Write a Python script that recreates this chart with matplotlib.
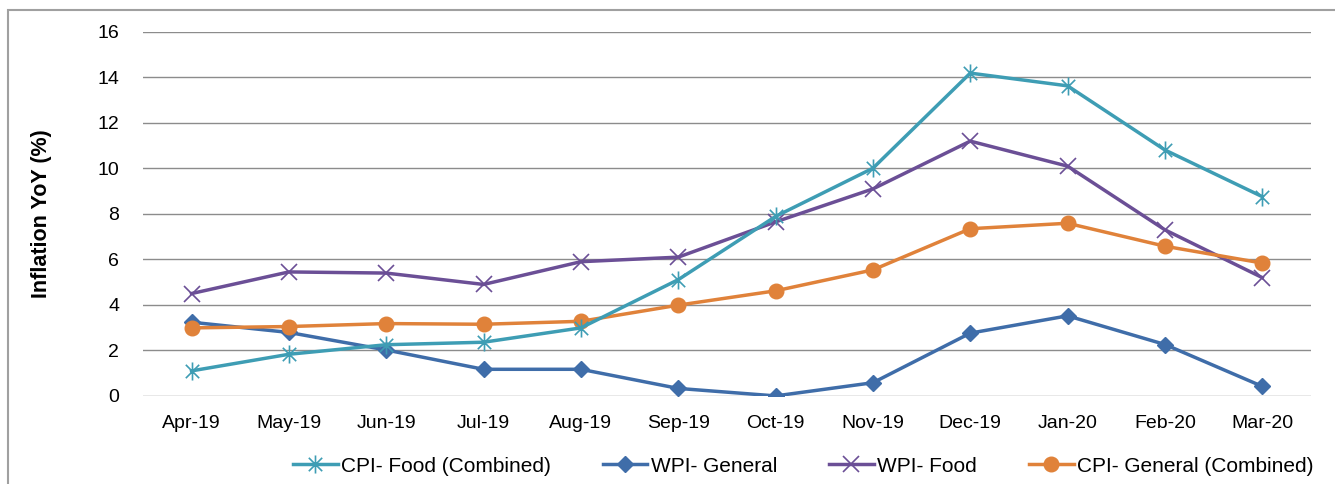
import matplotlib
matplotlib.use("Agg")
import matplotlib.pyplot as plt
from matplotlib.path import Path
from matplotlib.patches import Rectangle

months = ["Apr-19", "May-19", "Jun-19", "Jul-19", "Aug-19", "Sep-19",
          "Oct-19", "Nov-19", "Dec-19", "Jan-20", "Feb-20", "Mar-20"]
cpi_food = [1.10, 1.83, 2.25, 2.36, 2.99, 5.11, 7.89, 10.01, 14.19, 13.63, 10.81, 8.76]
wpi_general = [3.24, 2.79, 2.02, 1.17, 1.17, 0.33, 0.00, 0.58, 2.76, 3.52, 2.26, 0.42]
wpi_food = [4.50, 5.45, 5.40, 4.90, 5.90, 6.10, 7.65, 9.10, 11.20, 10.10, 7.30, 5.20]
cpi_general = [2.99, 3.05, 3.18, 3.15, 3.28, 3.99, 4.62, 5.54, 7.35, 7.59, 6.58, 5.84]

plt.rcParams['font.family'] = ['Liberation Sans', 'DejaVu Sans']

# excel style star marker: x with a vertical bar
star = Path([(-1, -1), (1, 1), (-1, 1), (1, -1), (0, -1.35), (0, 1.35)],
            [Path.MOVETO, Path.LINETO, Path.MOVETO, Path.LINETO, Path.MOVETO, Path.LINETO])

fig = plt.figure(figsize=(13.35, 4.84), dpi=100)
ax = fig.add_axes([0.107, 0.182, 0.875, 0.752])
x = list(range(len(months)))

ax.plot(x, cpi_food, color="#3E9DB4", lw=2.5, marker=star, ms=13, mew=1.2,
        label="CPI- Food (Combined)", zorder=4)
ax.plot(x, wpi_general, color="#3F6DA9", lw=2.5, marker="D", ms=8.5,
        label="WPI- General", zorder=3)
ax.plot(x, wpi_food, color="#6B4F96", lw=2.5, marker="x", ms=11, mew=1.2,
        label="WPI- Food", zorder=3)
ax.plot(x, cpi_general, color="#E0823A", lw=2.5, marker="o", ms=10.5,
        label="CPI- General (Combined)", zorder=3)

ax.set_xlim(-0.5, 11.5)
ax.set_ylim(0, 16)
ax.set_yticks(range(0, 17, 2))
ax.set_xticks(x)
ax.set_xticklabels(months)
ax.tick_params(axis="both", length=0, labelsize=14)
ax.tick_params(axis="x", pad=14)
ax.tick_params(axis="y", pad=17)
ax.grid(axis="y", color="#8C8C8C", lw=1)
ax.set_axisbelow(True)
for s in ax.spines.values():
    s.set_visible(False)
ax.set_ylabel("Inflation YoY (%)", fontsize=15.5, fontweight="bold", labelpad=33)

fig.legend(loc="center", bbox_to_anchor=(0.6015, 0.037), ncol=4, frameon=False,
           fontsize=15, handlelength=2.15, columnspacing=2.5, handletextpad=0.15)

# chart frame, only left and top edges fall inside the image
fig.patches.append(Rectangle((8 / 1335, -0.1), 1.1, 1.1 - 10 / 484,
                             transform=fig.transFigure, fill=False,
                             edgecolor="#A0A0A0", lw=1.5))

fig.savefig("out.png", dpi=100)
